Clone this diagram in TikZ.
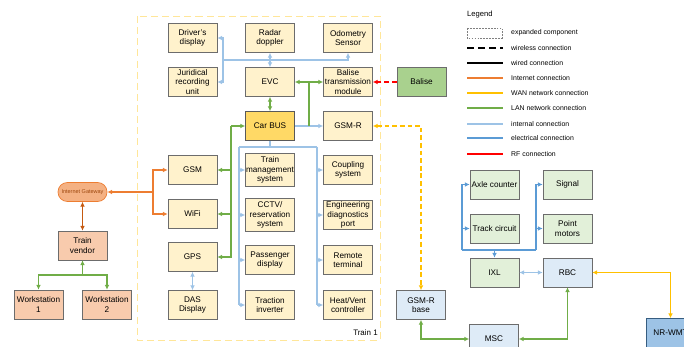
\documentclass[tikz,border=0pt]{standalone}
\usepackage{fontspec}
\setmainfont{Liberation Sans}
\usetikzlibrary{arrows.meta}

\definecolor{tren}{HTML}{FFF2CC}
\definecolor{bus}{HTML}{FFD966}
\definecolor{via}{HTML}{E2F0D9}
\definecolor{balisa}{HTML}{A9D18E}
\definecolor{radio}{HTML}{DEEBF7}
\definecolor{nrwm}{HTML}{9DC3E6}
\definecolor{vendedor}{HTML}{F8CBAD}
\definecolor{pasarela}{HTML}{F4B183}
\definecolor{naranja}{HTML}{ED7D31}
\definecolor{naranjaosc}{HTML}{C55A11}
\definecolor{amarillo}{HTML}{FFC000}
\definecolor{verde}{HTML}{70AD47}
\definecolor{celeste}{HTML}{9DC3E6}
\definecolor{azul}{HTML}{5B9BD5}
\definecolor{bordetren}{HTML}{FFE699}

\begin{document}
\begin{tikzpicture}[x=0.03cm, y=-0.03cm,
>={Latex[length=4pt,width=4pt]},
% Estilo de las cajas
caja/.style={draw=gray!85!black, line width=0.6pt, fill=tren, minimum width=1.47cm, minimum height=0.87cm, inner sep=0.5pt, align=center, font=\fontsize{7}{7.8}\selectfont},
% Estilo de las conexiones
interno/.style={draw=celeste, line width=1.2pt},
lan/.style={draw=verde, line width=1.2pt},
inet/.style={draw=naranja, line width=1.2pt},
wan/.style={draw=amarillo, line width=1.2pt, dash pattern=on 4pt off 2.5pt},
rf/.style={draw=red, line width=1.2pt, dash pattern=on 4pt off 2.5pt},
elec/.style={draw=azul, line width=1.2pt},
% Estilo de la leyenda
leyenda/.style={anchor=west, inner sep=0pt, font=\fontsize{5.9}{7}\selectfont},
]
\useasboundingbox (0,0) rectangle (684,347);
\clip (0,0) rectangle (684,347);

% Tren
\draw[bordetren, line width=0.8pt, dash pattern=on 6pt off 3.5pt] (137,16) rectangle (380,340);
\node (tren1) at (378,333) [anchor=east, inner sep=0pt, font=\fontsize{6.8}{8}\selectfont]{Train 1};

% Nodos del tren
\node (driver) at (192.5,38) [caja]{Driver's\\display};
\node (radar) at (270,38) [caja]{Radar\\doppler};
\node (odometria) at (348,38) [caja]{Odometry\\Sensor};
\node (juridico) at (192.5,82) [caja]{Juridical\\recording\\unit};
\node (evc) at (270,82) [caja]{EVC};
\node (btm) at (348,82) [caja]{Balise\\transmission\\module};
\node (carbus) at (270,126) [caja, fill=bus, draw=gray!70!black]{Car BUS};
\node (gsmr) at (348,126) [caja]{GSM-R};
\node (gsm) at (192.5,170) [caja]{GSM};
\node (wifi) at (192.5,214) [caja]{WiFi};
\node (gps) at (192.5,257) [caja]{GPS};
\node (das) at (192.5,305) [caja]{DAS\\Display};
\node (tms) at (270,170) [caja, minimum height=0.99cm]{Train\\management\\system};
\node (cctv) at (270,215) [caja, minimum height=0.99cm]{CCTV/\\reservation\\system};
\node (pasajero) at (270,260) [caja]{Passenger\\display};
\node (traccion) at (270,305) [caja]{Traction\\inverter};
\node (acople) at (348,170) [caja]{Coupling\\system};
\node (diagnostico) at (348,215) [caja]{Engineering\\diagnostics\\port};
\node (remoto) at (348,260) [caja]{Remote\\terminal};
\node (clima) at (348,305) [caja]{Heat/Vent\\controller};

% Nodos externos
\node (balise) at (421.5,82) [caja, fill=balisa]{Balise};
\node (gateway) at (82.5,192) [caja, fill=pasarela, draw=naranja, minimum height=0.57cm, rounded corners=0.28cm, text=naranjaosc!80!black, font=\fontsize{4.7}{5}\selectfont]{Internet Gateway};
\node (vendor) at (82.5,245.5) [caja, fill=vendedor]{Train\\vendor};
\node (ws1) at (38.5,304.5) [caja, fill=vendedor]{Workstation\\1};
\node (ws2) at (107,304.5) [caja, fill=vendedor]{Workstation\\2};
\node (axle) at (494.5,184.5) [caja, fill=via]{Axle counter};
\node (track) at (494.5,228.5) [caja, fill=via]{Track circuit};
\node (signal) at (567.5,184.5) [caja, fill=via]{Signal};
\node (point) at (567.5,228.5) [caja, fill=via]{Point\\motors};
\node (ixl) at (494.5,272.5) [caja, fill=via]{IXL};
\node (rbc) at (567.5,272.5) [caja, fill=radio]{RBC};
\node (gsmrbase) at (421,305) [caja, fill=radio]{GSM-R\\base};
\node (msc) at (494,339) [caja, fill=radio]{MSC};
\node (nr) at (670.5,333) [caja, fill=nrwm, draw=azul!60!black]{NR-WMT};

% Puntos de los buses
\coordinate (busI) at (223,60);
\coordinate (nodoLan) at (309,82);
\coordinate (busLan) at (231,126);
\coordinate (busA) at (239,147);
\coordinate (busB) at (317,147);
\coordinate (busInt) at (153,192);
\coordinate (busV) at (82.5,275);
\coordinate (eI) at (462,250);
\coordinate (eD) at (536,250);
\coordinate (eC) at (494.5,250);

% Flechas internas
\draw[interno,->] (busI) |- (driver.east);
\draw[interno,->] (busI) |- (juridico.east);
\draw[interno,->] (busI) -| (odometria.south);
\draw[interno,<->] (radar.south) -- (evc.north);
\draw[interno,->] (carbus.east) -- (gsmr.west);
\draw[interno] (carbus.south) -- (carbus.south |- busA);
\draw[interno] (busA) -- (busB);
\draw[interno] (busA) -- (busA |- traccion.west);
\draw[interno] (busB) -- (busB |- clima.west);
\foreach \n in {tms,cctv,pasajero,traccion}
  \draw[interno,->] (\n.west -| busA) -- (\n.west);
\foreach \n in {acople,diagnostico,remoto,clima}
  \draw[interno,->] (\n.west -| busB) -- (\n.west);
\draw[interno,<->] (gps.south) -- (das.north);
\draw[interno,<->] (ixl.east) -- (rbc.west);

% Flechas LAN
\draw[lan,<->] (evc.east) -- (btm.west);
\draw[lan] (carbus.east -| nodoLan) -- (nodoLan);
\draw[lan,<->] (evc.south) -- (carbus.north);
\draw[lan,->] (busLan) -- (carbus.west);
\draw[lan,->] (busLan) |- (gps.east);
\draw[lan,->] (gsm.east -| busLan) -- (gsm.east);
\draw[lan,->] (wifi.east -| busLan) -- (wifi.east);
\draw[lan,->] (busV) -- (vendor.south);
\draw[lan,->] (busV) -| (ws1.north);
\draw[lan,->] (busV) -| (ws2.north);
\draw[lan,<->] (gsmrbase.south) |- (msc.west);
\draw[lan,<->] (msc.east) -| (rbc.south);

% Flechas de internet, WAN y RF
\draw[inet,->] (busInt) -- (gateway.east);
\draw[inet,->] (busInt) |- (gsm.west);
\draw[inet,->] (busInt) |- (wifi.west);
\draw[draw=naranjaosc, line width=1.2pt, <->] (gateway.south) -- (vendor.north);
\draw[rf,->] (balise.west) -- (btm.east);
\draw[wan,<->] (gsmr.east) -| (gsmrbase.north);
\draw[wan, dash pattern={}, <->] (rbc.east) -| (nr.north);

% Flechas electricas
\draw[elec] (eI) -- (eD);
\draw[elec,->] (eC) -- (ixl.north);
\draw[elec,->] (eI) |- (axle.west);
\draw[elec,->] (track.west -| eI) -- (track.west);
\draw[elec,->] (eD) |- (signal.west);
\draw[elec,->] (point.west -| eD) -- (point.west);

% Leyenda
\node (titulo) at (467,15) [leyenda, font=\fontsize{6.5}{8}\selectfont]{Legend};
\draw[gray, line width=0.5pt, dash pattern=on 1.5pt off 1pt] (467,28) rectangle (502,38);
\draw[black, line width=1.3pt, dash pattern=on 6pt off 3.5pt] (467,48) -- (503,48);
\draw[black, line width=1.3pt] (467,63) -- (503,63);
\draw[naranja, line width=1.3pt] (467,78) -- (503,78);
\draw[amarillo, line width=1.3pt] (467,93) -- (503,93);
\draw[verde, line width=1.3pt] (467,108) -- (503,108);
\draw[celeste, line width=1.3pt] (467,124) -- (503,124);
\draw[azul, line width=1.3pt] (467,138) -- (503,138);
\draw[red, line width=1.3pt] (467,154) -- (503,154);
\node (l1) at (511,33) [leyenda]{expanded component};
\node (l2) at (511,48) [leyenda]{wireless connection};
\node (l3) at (511,63) [leyenda]{wired connection};
\node (l4) at (511,78) [leyenda]{Internet connection};
\node (l5) at (511,93) [leyenda]{WAN network connection};
\node (l6) at (511,108) [leyenda]{LAN network connection};
\node (l7) at (511,124) [leyenda]{internal connection};
\node (l8) at (511,138) [leyenda]{electrical connection};
\node (l9) at (511,154) [leyenda]{RF connection};
\end{tikzpicture}
\end{document}
